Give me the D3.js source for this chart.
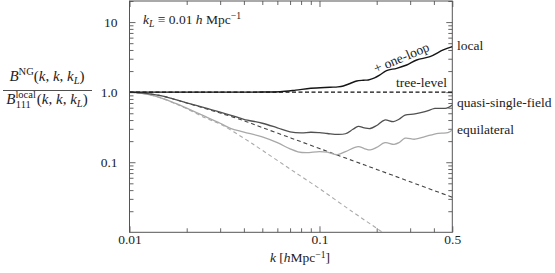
<!DOCTYPE html>
<html>
<head>
<meta charset="utf-8">
<script src="https://cdn.jsdelivr.net/npm/d3@7"></script>
<style>
  body { margin: 0; background: #fff; }
  svg { display: block; }
  svg text { font-family: "Liberation Serif", "DejaVu Serif", serif; }
</style>
</head>
<body>
<svg id="chart"></svg>
<script>
// values (k in h/Mpc, ratio B^NG / B^local_111)
const treeLocal = [[0.01, 1], [0.5, 1]];

const oneLoopLocal = [
  [0.01, 1], [0.03, 1], [0.05, 1.003], [0.062, 1.016], [0.075, 1.07], [0.09, 1.137],
  [0.1135, 1.175], [0.125, 1.19], [0.1335, 1.226], [0.145, 1.33], [0.157, 1.445],
  [0.17, 1.48], [0.1806, 1.494], [0.195, 1.6], [0.208, 1.76], [0.2253, 2.03],
  [0.2549, 2.19], [0.2877, 2.44], [0.3248, 2.88], [0.3815, 3.21], [0.448, 4.0], [0.5, 4.46]
];

const treeQSF = [
  [0.01, 1], [0.0125, 0.95], [0.015, 0.88], [0.0175, 0.78], [0.02, 0.70], [0.025, 0.585],
  [0.03, 0.503], [0.04, 0.392], [0.05, 0.312], [0.07, 0.224], [0.1, 0.157], [0.15, 0.105],
  [0.2, 0.079], [0.3, 0.0527], [0.5, 0.0316]
];

const oneLoopQSF = [
  [0.01, 1], [0.0125, 0.955], [0.015, 0.88], [0.0175, 0.78], [0.02, 0.705], [0.025, 0.595],
  [0.03, 0.52], [0.035, 0.46], [0.04, 0.41], [0.05, 0.36], [0.06, 0.31], [0.07, 0.272],
  [0.08, 0.262], [0.09, 0.268], [0.1, 0.264], [0.11, 0.257], [0.125, 0.249], [0.137, 0.255],
  [0.15, 0.295], [0.16, 0.325], [0.172, 0.31], [0.185, 0.303], [0.2, 0.335], [0.22, 0.40],
  [0.245, 0.38], [0.262, 0.41], [0.282, 0.47], [0.318, 0.489], [0.359, 0.527], [0.405, 0.585],
  [0.467, 0.592], [0.5, 0.657]
];

const treeEquil = [
  [0.01, 1], [0.0125, 0.93], [0.015, 0.81], [0.0175, 0.68], [0.02, 0.58], [0.025, 0.43],
  [0.03, 0.35], [0.04, 0.22], [0.05, 0.148], [0.07, 0.080], [0.1, 0.042], [0.15, 0.0194],
  [0.2, 0.0114], [0.25, 0.0075]
];

const oneLoopEquil = [
  [0.01, 1], [0.0125, 0.93], [0.015, 0.81], [0.0175, 0.69], [0.02, 0.59], [0.025, 0.45],
  [0.03, 0.36], [0.034, 0.305], [0.04, 0.27], [0.05, 0.23], [0.06, 0.19], [0.07, 0.155],
  [0.077, 0.141], [0.085, 0.137], [0.1, 0.142], [0.11, 0.139], [0.124, 0.128], [0.137, 0.142],
  [0.16, 0.167], [0.172, 0.157], [0.185, 0.15], [0.2, 0.163], [0.221, 0.19], [0.247, 0.18],
  [0.262, 0.19], [0.282, 0.22], [0.318, 0.213], [0.359, 0.232], [0.421, 0.259], [0.474, 0.264],
  [0.5, 0.289]
];

const xMajor = [0.01, 0.1, 0.5];
const xMinor = [0.02, 0.03, 0.04, 0.05, 0.06, 0.07, 0.08, 0.09, 0.2, 0.3, 0.4];
const yMajor = [0.1, 1, 10];
const yMinor = [0.02, 0.03, 0.04, 0.05, 0.06, 0.07, 0.08, 0.09,
  0.2, 0.3, 0.4, 0.5, 0.6, 0.7, 0.8, 0.9, 2, 3, 4, 5, 6, 7, 8, 9, 20];
const yTickText = { 0.1: "0.1", 1: "1.0", 10: "10" };
const xTickText = { 0.01: "0.01", 0.1: "0.1", 0.5: "0.5" };

const width = 555, height = 273;
const marginLeft = 129.5, marginRight = 102.7, marginTop = 1, marginBottom = 40.7;
const fs = 13.5;
const fontFam = "Liberation Serif, DejaVu Serif, serif";

const svg = d3.select("#chart").attr("width", width).attr("height", height);

const x = d3.scaleLog([0.01, 0.5], [marginLeft, width - marginRight]);
const y = d3.scaleLog([0.01, 20], [height - marginBottom, marginTop]);

const x0 = x.range()[0], x1 = x.range()[1], y0 = y.range()[0], y1 = y.range()[1];

svg.append("clipPath").attr("id", "clip")
  .append("rect").attr("x", x0).attr("y", y1).attr("width", x1 - x0).attr("height", y0 - y1);

const axisColor = "#555";
const styleAxis = (g) => {
  g.attr("font-family", fontFam);
  g.select(".domain").remove();
  g.selectAll(".tick line").attr("stroke", axisColor).attr("stroke-width", 0.9);
  g.selectAll(".tick text").attr("fill", "#222").attr("font-size", fs);
};

// bottom / top
svg.append("g").attr("transform", `translate(0,${y0})`)
  .call(d3.axisBottom(x).tickValues(xMajor).tickSize(-6).tickPadding(2).tickFormat((d) => xTickText[d]))
  .call(styleAxis);
svg.append("g").attr("transform", `translate(0,${y0})`)
  .call(d3.axisBottom(x).tickValues(xMinor).tickSize(-4).tickFormat(""))
  .call(styleAxis);
svg.append("g").attr("transform", `translate(0,${y1})`)
  .call(d3.axisTop(x).tickValues(xMajor).tickSize(-6).tickFormat(""))
  .call(styleAxis);
svg.append("g").attr("transform", `translate(0,${y1})`)
  .call(d3.axisTop(x).tickValues(xMinor).tickSize(-4).tickFormat(""))
  .call(styleAxis);

// left / right
svg.append("g").attr("transform", `translate(${x0},0)`)
  .call(d3.axisLeft(y).tickValues(yMajor).tickSize(-6).tickPadding(12).tickFormat((d) => yTickText[d]))
  .call(styleAxis);
svg.append("g").attr("transform", `translate(${x0},0)`)
  .call(d3.axisLeft(y).tickValues(yMinor).tickSize(-4).tickFormat(""))
  .call(styleAxis);
svg.append("g").attr("transform", `translate(${x1},0)`)
  .call(d3.axisRight(y).tickValues(yMajor).tickSize(-6).tickFormat(""))
  .call(styleAxis);
svg.append("g").attr("transform", `translate(${x1},0)`)
  .call(d3.axisRight(y).tickValues(yMinor).tickSize(-4).tickFormat(""))
  .call(styleAxis);

// frame
svg.append("rect")
  .attr("x", x0).attr("y", y1).attr("width", x1 - x0).attr("height", y0 - y1)
  .attr("fill", "none").attr("stroke", axisColor).attr("stroke-width", 1);

const line = d3.line()
  .x((d) => x(d[0]))
  .y((d) => y(d[1]))
  .curve(d3.curveCatmullRom.alpha(0.5));

const series = [
  { data: treeEquil, color: "#aaaaaa", dash: "4,3", w: 1.1 },
  { data: treeQSF, color: "#444", dash: "4,3", w: 1.1 },
  { data: treeLocal, color: "#111", dash: "4,2.5", w: 1.2 },
  { data: oneLoopEquil, color: "#a8a8a8", dash: null, w: 1.3 },
  { data: oneLoopQSF, color: "#505050", dash: null, w: 1.3 },
  { data: oneLoopLocal, color: "#151515", dash: null, w: 1.4 }
];

const plot = svg.append("g").attr("clip-path", "url(#clip)");
plot.selectAll("path")
  .data(series)
  .join("path")
  .attr("d", (s) => line(s.data))
  .attr("fill", "none")
  .attr("stroke", (s) => s.color)
  .attr("stroke-width", (s) => s.w)
  .attr("stroke-dasharray", (s) => s.dash);

// text
const txt = svg.append("g").attr("fill", "#222").attr("font-size", fs).attr("font-family", fontFam);
const sub = fs * 0.72;

// k_L label
const kl = txt.append("text").attr("x", 143).attr("y", 24);
kl.append("tspan").attr("font-style", "italic").text("k");
kl.append("tspan").attr("font-style", "italic").attr("font-size", sub).attr("dy", 3).text("L");
kl.append("tspan").attr("dy", -3).text(" \u2261 0.01 ");
kl.append("tspan").attr("font-style", "italic").text("h");
kl.append("tspan").text(" Mpc");
kl.append("tspan").attr("font-size", sub).attr("dy", -5).text("\u22121");

// right labels
txt.append("text").attr("x", 457).attr("y", 50).text("local");
txt.append("text").attr("x", 457).attr("y", 107).text("quasi-single-field");
txt.append("text").attr("x", 457).attr("y", 134).text("equilateral");
txt.append("text").attr("x", 447).attr("y", 87).attr("text-anchor", "end").text("tree-level");

// + one-loop along the curve
txt.append("text")
  .attr("transform", "translate(402,59) rotate(-23)")
  .attr("y", 3)
  .attr("text-anchor", "middle")
  .text("+ one-loop");

// x label
const xl = txt.append("text").attr("x", 300).attr("y", 262).attr("text-anchor", "middle");
xl.append("tspan").attr("font-style", "italic").text("k");
xl.append("tspan").text(" [");
xl.append("tspan").attr("font-style", "italic").text("h");
xl.append("tspan").text("Mpc");
xl.append("tspan").attr("font-size", sub).attr("dy", -4.5).text("\u22121");
xl.append("tspan").attr("dy", 4.5).text("]");

// y label: fraction
const ffs = 15, fsub = ffs * 0.7;
const num = txt.append("text").attr("x", 47).attr("y", 81).attr("text-anchor", "middle").attr("font-size", ffs);
num.append("tspan").attr("font-style", "italic").text("B");
num.append("tspan").attr("font-size", fsub).attr("dy", -6).text("NG");
num.append("tspan").attr("dy", 6).text("(");
num.append("tspan").attr("font-style", "italic").text("k");
num.append("tspan").text(", ");
num.append("tspan").attr("font-style", "italic").text("k");
num.append("tspan").text(", ");
num.append("tspan").attr("font-style", "italic").text("k");
num.append("tspan").attr("font-style", "italic").attr("font-size", fsub).attr("dy", 3).text("L");
num.append("tspan").attr("dy", -3).text(")");

txt.append("line").attr("x1", 3).attr("x2", 92).attr("y1", 90.5).attr("y2", 90.5)
  .attr("stroke", "#222").attr("stroke-width", 0.8);

const den = txt.append("text").attr("x", 47).attr("y", 104).attr("text-anchor", "middle").attr("font-size", ffs);
den.append("tspan").attr("font-style", "italic").text("B");
den.append("tspan").attr("font-size", fsub).attr("dy", -6).text("local");
den.append("tspan").attr("font-size", fsub).attr("dx", -20).attr("dy", 10).text("111");
den.append("tspan").attr("dx", 6).attr("dy", -4).text("(");
den.append("tspan").attr("font-style", "italic").text("k");
den.append("tspan").text(", ");
den.append("tspan").attr("font-style", "italic").text("k");
den.append("tspan").text(", ");
den.append("tspan").attr("font-style", "italic").text("k");
den.append("tspan").attr("font-style", "italic").attr("font-size", fsub).attr("dy", 3).text("L");
den.append("tspan").attr("dy", -3).text(")");
</script>
</body>
</html>
